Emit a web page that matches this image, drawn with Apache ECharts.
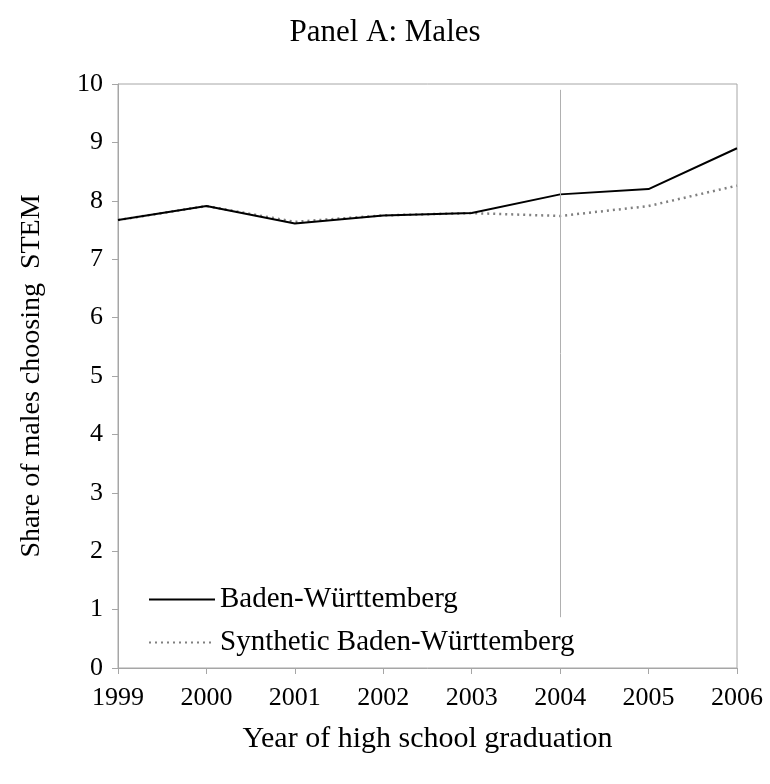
<!DOCTYPE html>
<html><head><meta charset="utf-8">
<script src="https://cdn.jsdelivr.net/npm/echarts@6/dist/echarts.min.js"></script>
<style>html,body{margin:0;padding:0;background:#fff}#c{width:770px;height:784px}</style>
</head><body><div id="c"></div>
<script>
const years = ['1999','2000','2001','2002','2003','2004','2005','2006'];
const bw = [7.67, 7.91, 7.61, 7.75, 7.79, 8.11, 8.2, 8.9];
const synthetic = [7.67, 7.91, 7.64, 7.75, 7.79, 7.74, 7.91, 8.26];
const treatmentYear = '2004';
const yTicks = [0, 10, 1];

const font = '"Liberation Serif", "Times New Roman", serif';
const chart = echarts.init(document.getElementById('c'));
chart.setOption({
  animation: false,
  title: { text: 'Panel A: Males', left: 'center', top: 12, textStyle: { fontFamily: font, fontSize: 31, fontWeight: 'normal', color: '#000' } },
  grid: { left: 118, right: 33, top: 84, bottom: 116, show: true, borderColor: '#a6a6a6', borderWidth: 1 },
  legend: {
    orient: 'vertical', left: 143, top: 580, itemWidth: 66, itemHeight: 10, itemGap: 14,
    textStyle: { fontFamily: font, fontSize: 29, color: '#000' },
    data: [
      { name: 'Baden-Württemberg', icon: 'path://M0,4L66,4L66,6L0,6Z' },
      { name: 'Synthetic Baden-Württemberg', itemStyle: { color: 'transparent', borderWidth: 0 } }
    ]
  },
  xAxis: {
    type: 'category', data: years, boundaryGap: false,
    name: 'Year of high school graduation', nameLocation: 'middle', nameGap: 56,
    nameTextStyle: { fontFamily: font, fontSize: 30, color: '#000' },
    axisLine: { lineStyle: { color: '#a6a6a6' } },
    axisTick: { show: true, inside: false, length: 6, lineStyle: { color: '#a6a6a6' } },
    axisLabel: { fontFamily: font, fontSize: 26, color: '#000', margin: 17 },
    splitLine: { show: false }
  },
  yAxis: {
    type: 'value', min: yTicks[0], max: yTicks[1], interval: yTicks[2],
    name: 'Share of males choosing  STEM', nameLocation: 'middle', nameGap: 72,
    nameTextStyle: { fontFamily: font, fontSize: 28, color: '#000' },
    axisLine: { show: true, lineStyle: { color: '#a6a6a6' } },
    axisTick: { show: true, length: 6, lineStyle: { color: '#a6a6a6' } },
    axisLabel: { fontFamily: font, fontSize: 26, color: '#000', margin: 15 },
    splitLine: { show: false }
  },
  series: [
    {
      name: 'Synthetic Baden-Württemberg', type: 'line', data: synthetic, symbol: 'none', z: 2,
      lineStyle: { color: '#808080', width: 2.5, type: [2, 4] }, itemStyle: { color: '#808080' },
      markLine: {
        silent: true, symbol: 'none', label: { show: false },
        lineStyle: { color: '#b0b0b0', width: 1, type: 'solid' },
        data: [[{ coord: [treatmentYear, 9.9] }, { coord: [treatmentYear, 0.87] }]]
      }
    },
    {
      name: 'Baden-Württemberg', type: 'line', data: bw, symbol: 'none', z: 3,
      lineStyle: { color: '#000', width: 2 }, itemStyle: { color: '#000' }
    }
  ]
});
</script></body></html>
